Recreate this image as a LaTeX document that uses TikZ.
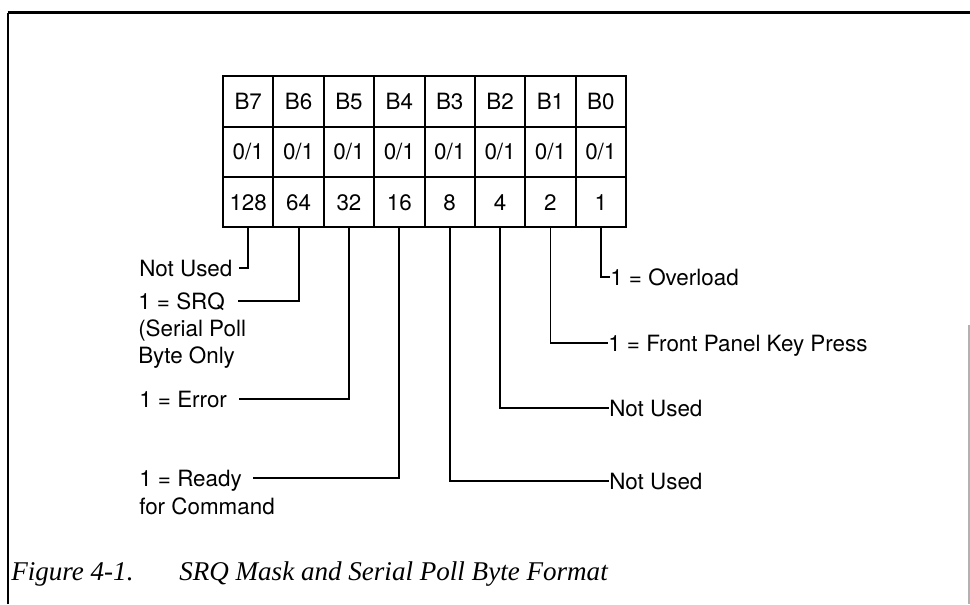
\documentclass[tikz,border=0pt]{standalone}
\usepackage{fontspec}
\setmainfont{TeX Gyre Heros}
\newfontfamily\capfont{Liberation Serif}
\usepackage{tikz}
\usetikzlibrary{
  positioning,
  calc
}

\begin{document}
\begin{tikzpicture}[x=0.75pt,y=-0.75pt,
  font=\fontsize{16.8}{20}\selectfont,
  bitcell/.style={draw, line width=1.5pt, minimum width=37.8pt, minimum height=37.7pt,
    inner sep=0pt, text height=12pt, text depth=0pt},
  lbl/.style={inner sep=0pt, text height=12pt, text depth=0pt},
  lead/.style={line width=1.4pt},
  figcap/.style={anchor=base west, inner sep=0pt, font=\capfont\itshape\fontsize{20.3}{24}\selectfont}]
  \useasboundingbox (0,0) rectangle (970,604);
  \draw[line width=1.1pt] (8,604) -- (8,12.5);
  \draw[line width=1.8pt] (7.5,12.5) -- (970,12.5);
  \draw[black!30, line width=0.8pt] (969,325) -- (969,604);

  \foreach \b/\w [count=\i from 0] in {7/128,6/64,5/32,4/16,3/8,2/4,1/2,0/1} {
    \node[bitcell] (b\b) at (248.2+50.375*\i,101.5) {B\b};
    \node[bitcell] (v\b) at (248.2+50.375*\i,151.8) {0/1};
    \node[bitcell] (w\b) at (248.2+50.375*\i,202.1) {\w};
  }

  \node[lbl, anchor=west] (nu7) at (139,268) {Not Used};
  \node[lbl, anchor=west] (srq) at (138,301) {1 = SRQ};
  \node[lbl, anchor=west] (srq2) at ([yshift=-20.3pt]srq.west) {(Serial Poll};
  \node[lbl, anchor=west] (srq3) at ([yshift=-20.3pt]srq2.west) {Byte Only};
  \node[lbl, anchor=west] (err) at (139,399) {1 = Error};
  \node[lbl, anchor=west] (rdy) at (139,478) {1 = Ready};
  \node[lbl, anchor=west] (rdy2) at ([yshift=-21pt]rdy.west) {for Command};

  \node[lbl, anchor=west] (ovl) at (610,277) {1 = Overload};
  \node[lbl, anchor=west] (fpk) at (608,343) {1 = Front Panel Key Press};
  \node[lbl, anchor=west] (nu2) at (609,408) {Not Used};
  \node[lbl, anchor=west] (nu3) at (609,481) {Not Used};

  \draw[lead] (w7.south) |- ([xshift=4.5pt]nu7.east);
  \draw[lead] (w6.south) |- ([xshift=10pt]srq.east);
  \draw[lead] (w5.south) |- ([xshift=9pt]err.east);
  \draw[lead] (w4.south) |- ([xshift=8.5pt]rdy.east);
  \draw[lead] (w3.south) |- (nu3.west);
  \draw[lead] (w2.south) |- (nu2.west);
  \draw[lead] (w1.south) |- (fpk.west);
  \draw[lead] (w0.south) |- (ovl.west);

  \node[figcap] (fig) at (11,580) {Figure 4-1.};
  \node[figcap] (title) at (179,580) {SRQ Mask and Serial Poll Byte Format};
\end{tikzpicture}
\end{document}
